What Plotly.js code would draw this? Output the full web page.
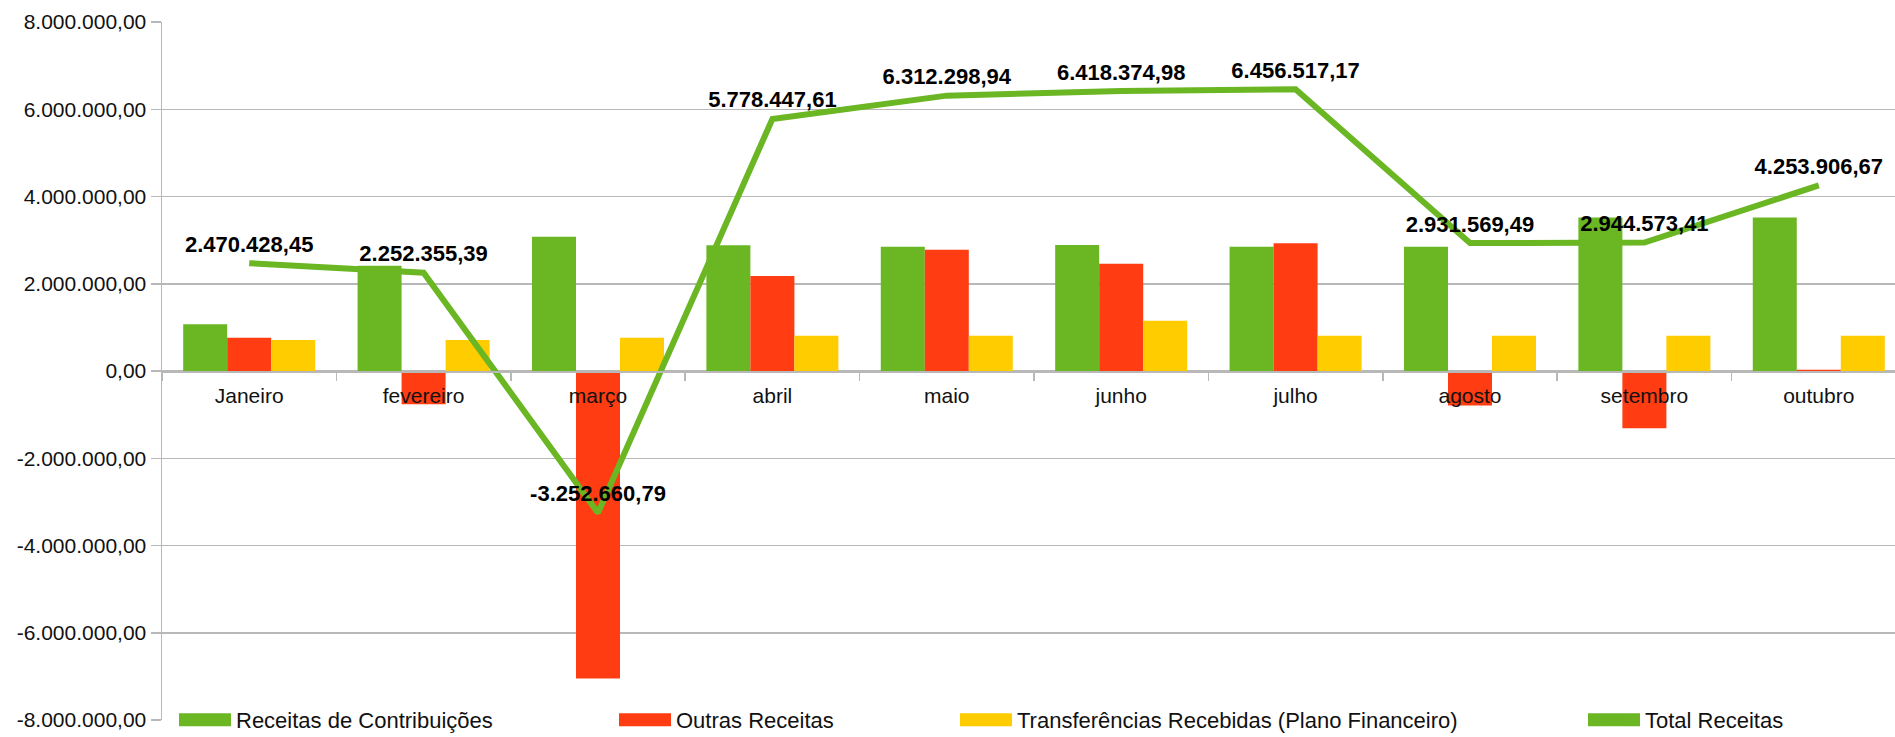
<!DOCTYPE html>
<html>
<head>
<meta charset="utf-8">
<script src="https://cdn.plot.ly/plotly-3.0.1.min.js"></script>
<style>
  html, body { margin: 0; padding: 0; background: #ffffff; }
  #chart { width: 1895px; height: 737px; }
  /* widen the legend swatches to the reference's flat rectangles */
  #chart .legendpoints path { transform: translate(31px, 0px) scale(4.333, 1.083); }
  #chart .legendlines path { stroke-width: 13px !important; }
</style>
</head>
<body>
<div id="chart"></div>
<script>
const months = ['Janeiro', 'fevereiro', 'março', 'abril', 'maio', 'junho', 'julho', 'agosto', 'setembro', 'outubro'];
const receitasContribuicoes = [1070000, 2410000, 3080000, 2880000, 2850000, 2890000, 2850000, 2850000, 3520000, 3520000];
const outrasReceitas = [760000, -760000, -7050000, 2180000, 2780000, 2460000, 2930000, -790000, -1310000, 30000];
const transferenciasRecebidas = [710000, 710000, 760000, 810000, 810000, 1150000, 810000, 810000, 810000, 810000];
const totalReceitas = [2470428.45, 2252355.39, -3252660.79, 5778447.61, 6312298.94, 6418374.98, 6456517.17, 2931569.49, 2944573.41, 4253906.67];
const totalLabels = ['2.470.428,45', '2.252.355,39', '-3.252.660,79', '5.778.447,61', '6.312.298,94', '6.418.374,98', '6.456.517,17', '2.931.569,49', '2.944.573,41', '4.253.906,67'];
const yTickVals = [-8000000, -6000000, -4000000, -2000000, 0, 2000000, 4000000, 6000000, 8000000];
const yTickText = ['-8.000.000,00', '-6.000.000,00', '-4.000.000,00', '-2.000.000,00', '0,00', '2.000.000,00', '4.000.000,00', '6.000.000,00', '8.000.000,00'];

const GREEN = '#6ab623';
const RED = '#ff3c12';
const YELLOW = '#ffcc00';
const GRID = '#b8b8b8';
const FONT = 'Liberation Sans, Arial, sans-serif';

const traces = [
  { type: 'bar', name: 'Receitas de Contribuições', x: months, y: receitasContribuicoes,
    marker: { color: GREEN }, legend: 'legend' },
  { type: 'bar', name: 'Outras Receitas', x: months, y: outrasReceitas,
    marker: { color: RED }, legend: 'legend2' },
  { type: 'bar', name: 'Transferências Recebidas (Plano Financeiro)', x: months, y: transferenciasRecebidas,
    marker: { color: YELLOW }, legend: 'legend3' },
  { type: 'scatter', mode: 'lines+markers+text', name: 'Total Receitas', x: months, y: totalReceitas,
    text: totalLabels, textposition: 'top center',
    textfont: { family: FONT, size: 22, color: '#000000', weight: 'bold' },
    marker: { size: 8, opacity: 0, color: GREEN },
    line: { color: GREEN, width: 6 }, cliponaxis: false, legend: 'legend4' }
];

function leg(textStartPx) {
  return {
    orientation: 'h', x: (textStartPx - 62 - 162) / 1733, y: 0, xanchor: 'left', yanchor: 'middle',
    bgcolor: 'rgba(0,0,0,0)', borderwidth: 0, itemwidth: 52,
    font: { family: FONT, size: 22, color: '#111111' }
  };
}

const layout = {
  width: 1895, height: 737,
  margin: { l: 162, r: 0, t: 22, b: 17, autoexpand: false },
  paper_bgcolor: '#ffffff', plot_bgcolor: '#ffffff',
  font: { family: FONT, size: 20, color: '#111111' },
  separators: ',.',
  barmode: 'group', bargap: 0.243, bargroupgap: 0,
  showlegend: true,
  hovermode: false,
  xaxis: {
    type: 'category', range: [-0.5, 9.437],
    anchor: 'free', position: 0.5,
    showline: true, linecolor: GRID, linewidth: 1.5,
    ticks: 'outside', tickson: 'boundaries', ticklen: 8, tickcolor: GRID, tickwidth: 1.5,
    showgrid: false, zeroline: false,
    tickfont: { family: FONT, size: 21, color: '#111111' },
    ticklabelstandoff: 5
  },
  yaxis: {
    range: [-8000000, 8000000],
    tickvals: yTickVals, ticktext: yTickText,
    showgrid: true, gridcolor: GRID, gridwidth: 1.5,
    showline: true, linecolor: GRID, linewidth: 1.5,
    ticks: 'outside', ticklen: 10, tickcolor: GRID, tickwidth: 1.5,
    zeroline: false,
    tickfont: { family: FONT, size: 21, color: '#111111' }
  },
  legend: leg(236),
  legend2: leg(676),
  legend3: leg(1017),
  legend4: leg(1645)
};

Plotly.newPlot('chart', traces, layout, { displayModeBar: false, staticPlot: true });
</script>
</body>
</html>
